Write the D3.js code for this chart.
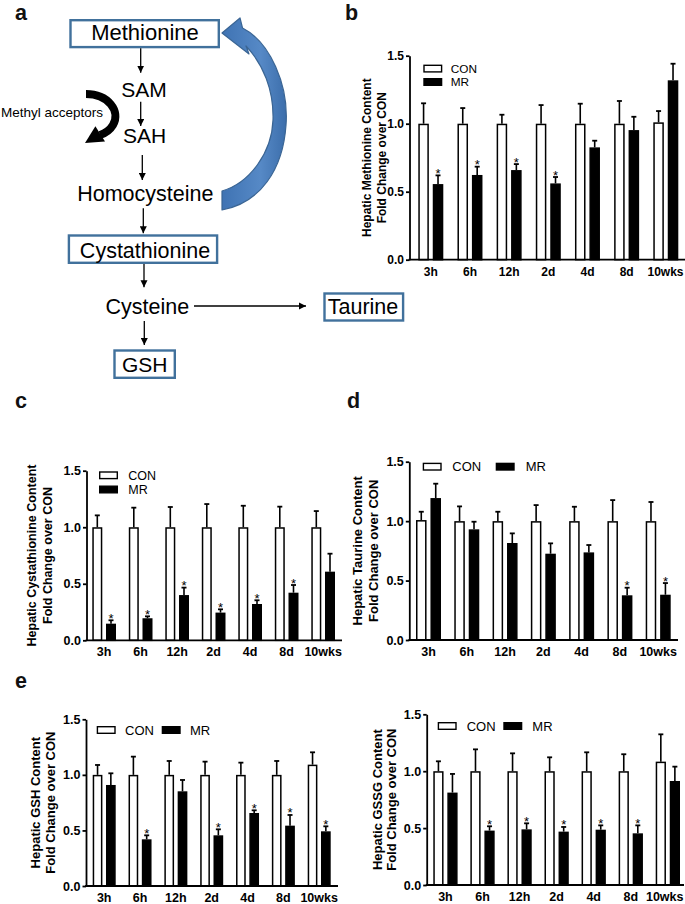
<!DOCTYPE html>
<html><head><meta charset="utf-8">
<script src="https://cdn.jsdelivr.net/npm/d3@7"></script>
<style>html,body{margin:0;padding:0;background:#fff;} svg{display:block;font-family:"Liberation Sans",Arial,sans-serif;}</style>
</head><body><svg id="c" width="685" height="904"></svg>
<script>
const categories = ["3h","6h","12h","2d","4d","8d","10wks"];
const seriesNames = ["CON","MR"];
const tickValues = [0, 0.5, 1.0, 1.5];

// b: Hepatic Methionine
const metCON    = [1.00, 1.00, 1.00, 1.00, 1.00, 1.00, 1.01];
const metCONerr = [0.150, 0.115, 0.066, 0.137, 0.147, 0.167, 0.083];
const metMR     = [0.556, 0.623, 0.659, 0.561, 0.826, 0.953, 1.319];
const metMRerr  = [0.064, 0.061, 0.044, 0.047, 0.049, 0.098, 0.122];
const metSig    = [1, 1, 1, 1, 0, 0, 0];

// c: Hepatic Cystathionine
const cysCON    = [1.00, 1.00, 1.00, 1.00, 1.00, 1.00, 1.00];
const cysCONerr = [0.105, 0.173, 0.179, 0.205, 0.190, 0.182, 0.143];
const cysMR     = [0.147, 0.195, 0.400, 0.245, 0.321, 0.421, 0.607];
const cysMRerr  = [0.030, 0.017, 0.066, 0.029, 0.033, 0.068, 0.159];
const cysSig    = [1, 1, 1, 1, 1, 1, 0];

// d: Hepatic Taurine
const tauCON    = [1.009, 1.00, 1.00, 1.00, 1.00, 1.00, 1.00];
const tauCONerr = [0.070, 0.124, 0.079, 0.135, 0.121, 0.177, 0.161];
const tauMR     = [1.194, 0.931, 0.816, 0.726, 0.737, 0.376, 0.381];
const tauMRerr  = [0.121, 0.064, 0.081, 0.087, 0.062, 0.064, 0.098];
const tauSig    = [0, 0, 0, 0, 0, 1, 1];

// e left: Hepatic GSH
const gshCON    = [1.00, 1.00, 1.00, 1.00, 1.00, 1.00, 1.092];
const gshCONerr = [0.089, 0.164, 0.125, 0.119, 0.110, 0.125, 0.111];
const gshMR     = [0.909, 0.420, 0.852, 0.456, 0.657, 0.543, 0.492];
const gshMRerr  = [0.105, 0.036, 0.102, 0.054, 0.024, 0.096, 0.045];
const gshSig    = [0, 1, 0, 1, 1, 1, 1];

// e right: Hepatic GSSG
const gssgCON    = [1.00, 1.00, 1.00, 1.00, 1.00, 1.00, 1.084];
const gssgCONerr = [0.087, 0.192, 0.157, 0.122, 0.166, 0.149, 0.240];
const gssgMR     = [0.812, 0.478, 0.489, 0.469, 0.486, 0.454, 0.914];
const gssgMRerr  = [0.164, 0.038, 0.053, 0.041, 0.038, 0.070, 0.126];
const gssgSig    = [0, 1, 1, 1, 1, 1, 0];

const FONT = '"Liberation Sans", Arial, sans-serif';
const svg = d3.select("#c");
svg.append("rect").attr("width",685).attr("height",904).attr("fill","#fff");

// ---------- panel letters ----------
[["a",15,20],["b",345,20],["c",15,408],["d",347,408],["e",15,688]].forEach(([t,x,yy])=>{
  svg.append("text").attr("x",x).attr("y",yy).attr("font-size",21.5).attr("font-weight","bold").attr("fill","#111").text(t);
});

// ---------- panel a: pathway diagram ----------
const defs = svg.append("defs");
defs.append("marker").attr("id","ah").attr("viewBox","0 0 10 10").attr("refX",10).attr("refY",5)
  .attr("markerWidth",7).attr("markerHeight",7.5).attr("markerUnits","userSpaceOnUse").attr("orient","auto")
  .append("path").attr("d","M0,0 L10,5 L0,10 z").attr("fill","#000");
const grad = defs.append("linearGradient").attr("id","bg").attr("x1","0").attr("y1","0").attr("x2","1").attr("y2","0");
grad.append("stop").attr("offset","0").attr("stop-color","#3f73b3");
grad.append("stop").attr("offset","0.6").attr("stop-color","#5689c6");
grad.append("stop").attr("offset","1").attr("stop-color","#3c6eab");

const A = svg.append("g");
const boxColor = "#41719c";
[[69.3,19,220,48.3],[67.7,234.3,218.3,264],[323.3,292.3,404.3,321.7],[113.3,349.3,176,379]].forEach(([x0,y0,x1,y1])=>{
  A.append("rect").attr("x",x0+1.2).attr("y",y0+1.2).attr("width",x1-x0-2.4).attr("height",y1-y0-2.4)
   .attr("fill","#fff").attr("stroke",boxColor).attr("stroke-width",2.4);
});
const words = [["Methionine",145,40,22],["SAM",144,97,21],["SAH",144.5,143,21],["Homocysteine",145.3,201,21.5],
  ["Cystathionine",145,257.5,21.5],["Cysteine",147.3,314,21.5],["Taurine",363,314,21.5],["GSH",144.7,371.5,21]];
words.forEach(([t,x,yy,fs])=>{
  A.append("text").attr("x",x).attr("y",yy).attr("text-anchor","middle").attr("font-size",fs).attr("fill","#000").text(t);
});
A.append("text").attr("x",1).attr("y",117).attr("font-size",13.5).attr("fill","#000").text("Methyl acceptors");
[[140.7,48.3,140.7,72.7],[140.7,101.7,140.7,126],[142.3,155,142.3,180],[143.3,208.3,143.3,233.3],
 [144,264,144,287.3],[194,306,306,306],[144.3,321,144.3,345]].forEach(([x1,y1,x2,y2])=>{
  A.append("line").attr("x1",x1).attr("y1",y1).attr("x2",x2).attr("y2",y2)
   .attr("stroke","#000").attr("stroke-width",1.3).attr("marker-end","url(#ah)");
});
// black curved arrow (methyl acceptors)
A.append("path").attr("d","M86,94 C108,94 121,111 113,125 C110,130 106,133 100,135")
  .attr("fill","none").attr("stroke","#000").attr("stroke-width",8);
A.append("path").attr("d","M85,143 L95.4,126.3 L105,141.5 Z").attr("fill","#000");
// big blue return arrow
A.append("path").attr("d",
  "M222,33 L240,18 L242.5,28 C270,42 289,85 286,125 C283,170 260,203 222,210 L222,191 C250,183 272,152 273,120 C274,90 263,64 246,46 L249,54 Z")
  .attr("fill","url(#bg)").attr("stroke","#3a6594").attr("stroke-width",1.2).attr("stroke-linejoin","round");

// ---------- bar chart panels ----------
function drawPanel(p){
  const g = svg.append("g");
  const y = d3.scaleLinear().domain([0,1.5]).range([p.y0, p.y15]);
  const n = categories.length;
  const step = (p.barR - p.barL - p.gw)/(n-1);
  const x = d3.scaleBand().domain(categories).range([p.barL, p.barR]).paddingInner(1 - p.gw/step).paddingOuter(0);
  const xs = d3.scaleBand().domain(seriesNames).range([0, x.bandwidth()]).paddingInner(0.27);

  const yAxis = d3.axisLeft(y).tickValues(tickValues).tickFormat(d3.format(".1f")).tickSize(3.5).tickSizeOuter(0).tickPadding(2);
  const ga = g.append("g").attr("transform",`translate(${p.ax},0)`).call(yAxis)
    .attr("font-family",FONT).attr("font-size",p.tickFs);
  ga.select(".domain").attr("stroke","#000").attr("stroke-width",1.8);
  ga.selectAll(".tick line").attr("stroke","#000").attr("stroke-width",1.8);
  ga.selectAll(".tick text").attr("fill","#000").attr("font-weight","bold");

  // x labels (kept inside the picture's right edge)
  g.selectAll(null).data(categories).enter().append("text")
    .attr("y", y(0) + 16)
    .attr("text-anchor","middle").attr("font-size",p.tickFs).attr("font-weight","bold").attr("fill","#000")
    .text(c => c)
    .attr("x", function(c){ const cx = x(c) + x.bandwidth()/2; const w = this.getComputedTextLength(); return Math.min(cx, 683.5 - w/2); });

  const sets = [
    {name:"CON", vals:p.con, err:p.conErr, fill:"#fff", sig:null},
    {name:"MR", vals:p.mr, err:p.mrErr, fill:"#000", sig:p.sig}
  ];
  sets.forEach(s=>{
    const cx = c => x(c) + xs(s.name) + xs.bandwidth()/2;
    g.selectAll(null).data(categories).enter().append("rect")
      .attr("x", c => x(c) + xs(s.name) + 0.75).attr("width", xs.bandwidth() - 1.5)
      .attr("y", (c,i) => y(s.vals[i]) + 0.75).attr("height", (c,i) => y(0) - y(s.vals[i]) - 0.75)
      .attr("fill", s.fill).attr("stroke","#000").attr("stroke-width",1.5);
    g.selectAll(null).data(categories).enter().append("line")
      .attr("x1", cx).attr("x2", cx)
      .attr("y1", (c,i) => y(s.vals[i])).attr("y2", (c,i) => y(s.vals[i] + s.err[i]))
      .attr("stroke","#000").attr("stroke-width",1.6);
    g.selectAll(null).data(categories).enter().append("line")
      .attr("x1", c => cx(c) - 2.5).attr("x2", c => cx(c) + 2.5)
      .attr("y1", (c,i) => y(s.vals[i] + s.err[i])).attr("y2", (c,i) => y(s.vals[i] + s.err[i]))
      .attr("stroke","#000").attr("stroke-width",1.8);
    if (s.sig) {
      g.selectAll(null).data(categories.filter((c,i)=>s.sig[i])).enter().append("text")
        .attr("x", cx).attr("y", c => { const i = categories.indexOf(c); return y(s.vals[i] + s.err[i]) + 2.5; })
        .attr("text-anchor","middle").attr("font-size",13).attr("fill","#000").text("*");
    }
  });

  // x axis line
  g.append("line").attr("x1", p.ax - 0.9).attr("x2", p.xEnd).attr("y1", y(0)).attr("y2", y(0))
    .attr("stroke","#000").attr("stroke-width",1.8);

  // y titles
  [[p.title1,p.t1x],[p.title2,p.t2x]].forEach(([t,tx])=>{
    g.append("text").attr("transform",`translate(${tx},${(p.y0+p.y15)/2}) rotate(-90)`)
      .attr("text-anchor","middle").attr("font-size",p.titleFs).attr("font-weight","bold").attr("fill","#000").text(t);
  });

  // legend
  const lw = 19, lh = 8;
  p.legend.forEach((L,k)=>{
    const name = seriesNames[k];
    g.append("rect").attr("x",L[0]+0.7).attr("y",L[1]-lh/2+0.7).attr("width",lw-1.4).attr("height",lh-1.4)
      .attr("fill", k===0 ? "#fff" : "#000").attr("stroke","#000").attr("stroke-width",1.4);
    g.append("text").attr("x",L[2]).attr("y",L[1]).attr("dy","0.36em").attr("font-size",p.legFs).attr("fill","#000").text(name);
  });
}

drawPanel({ax:409.5, xEnd:685, barL:418.3, barR:678.3, gw:25, y0:259.7, y15:55.7, tickFs:12,
  con:metCON, conErr:metCONerr, mr:metMR, mrErr:metMRerr, sig:metSig,
  title1:"Hepatic Methionine Content", title2:"Fold Change over CON", t1x:370.5, t2x:385.5, titleFs:12,
  legend:[[423.3,68.6,450.7],[423.3,82,450.7]], legFs:11.8});

drawPanel({ax:86.5, xEnd:342, barL:92.3, barR:335, gw:23.7, y0:640.3, y15:470.7, tickFs:12.5,
  con:cysCON, conErr:cysCONerr, mr:cysMR, mrErr:cysMRerr, sig:cysSig,
  title1:"Hepatic Cystathionine Content", title2:"Fold Change over CON", t1x:35.8, t2x:52, titleFs:12.5,
  legend:[[99,475.3,128.3],[99,489.5,128.3]], legFs:12.5});

drawPanel({ax:409.3, xEnd:678, barL:416, barR:670.7, gw:25, y0:640, y15:461.7, tickFs:12.5,
  con:tauCON, conErr:tauCONerr, mr:tauMR, mrErr:tauMRerr, sig:tauSig,
  title1:"Hepatic Taurine Content", title2:"Fold Change over CON", t1x:362.4, t2x:377.9, titleFs:13,
  legend:[[422.7,466.7,452.3],[495.7,466.7,525.7]], legFs:13});

drawPanel({ax:86, xEnd:338, barL:92.7, barR:330.7, gw:23, y0:886, y15:719.3, tickFs:12.5,
  con:gshCON, conErr:gshCONerr, mr:gshMR, mrErr:gshMRerr, sig:gshSig,
  title1:"Hepatic GSH Content", title2:"Fold Change over CON", t1x:39.9, t2x:54.9, titleFs:13,
  legend:[[96.7,730,125],[161.7,730,190]], legFs:13});

drawPanel({ax:426.7, xEnd:684, barL:433.3, barR:680, gw:24.3, y0:885, y15:714.3, tickFs:12.5,
  con:gssgCON, conErr:gssgCONerr, mr:gssgMR, mrErr:gssgMRerr, sig:gssgSig,
  title1:"Hepatic GSSG Content", title2:"Fold Change over CON", t1x:381.7, t2x:396.4, titleFs:13,
  legend:[[437.7,726,466.7],[503.3,726,532.3]], legFs:13});
</script></body></html>
